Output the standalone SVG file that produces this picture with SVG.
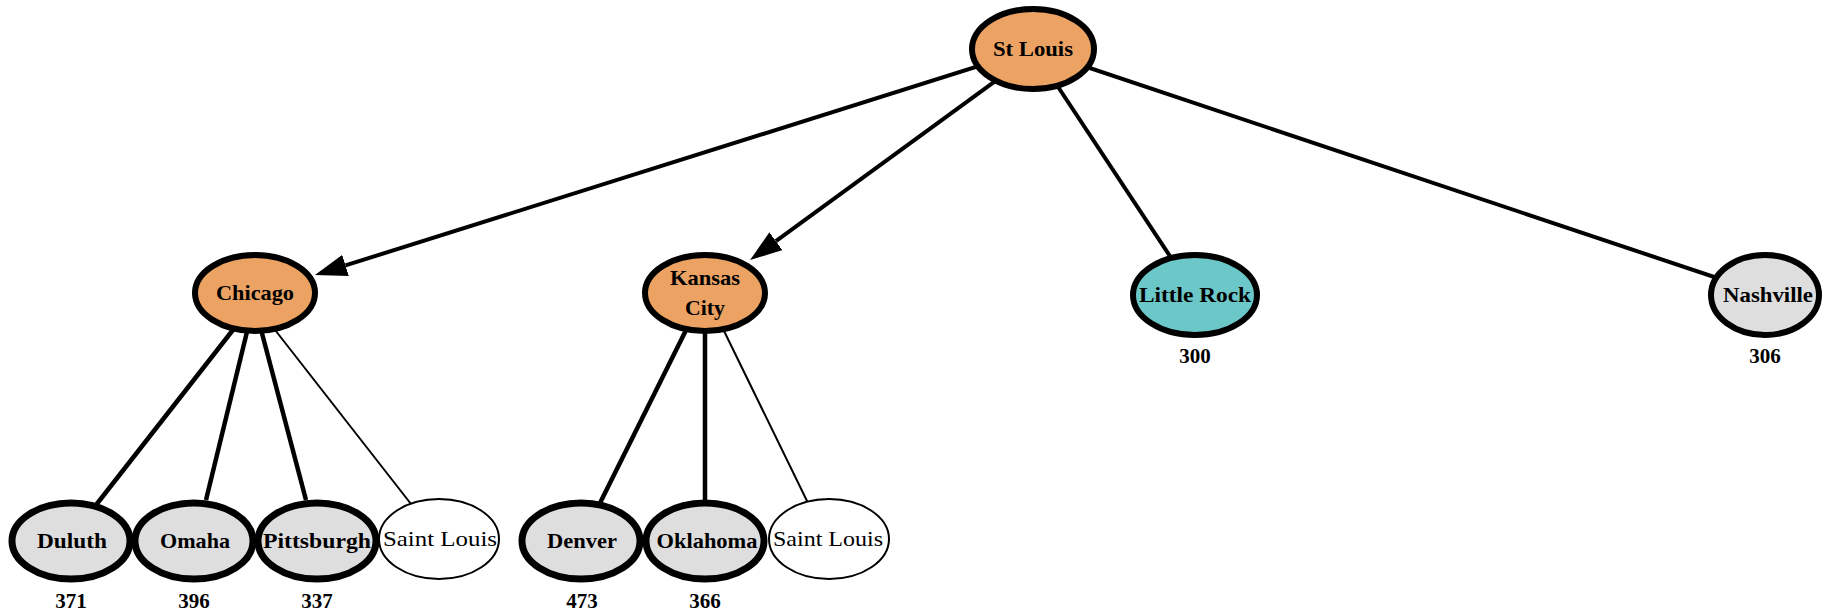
<svg xmlns="http://www.w3.org/2000/svg" width="1830" height="614" viewBox="0 0 1830 614">
  <style>
    .node { stroke: #000; stroke-width: 6; }
    .row .node { stroke-width: 7; }
    .leaf { stroke: #000; stroke-width: 2; fill: #fff; }
    .open { fill: #eba262; }
    .goal { fill: #6cc7c8; }
    .seen { fill: #dedede; }
    .lbl { font-family: "Liberation Serif", "Times New Roman", serif; font-size: 21px; font-weight: bold; fill: #000; text-anchor: middle; }
    .plain { font-family: "Liberation Serif", "Times New Roman", serif; font-size: 21px; fill: #000; text-anchor: middle; }
    .cost { font-family: "Liberation Serif", "Times New Roman", serif; font-size: 21px; font-weight: bold; fill: #000; text-anchor: middle; }
    .edge { stroke: #000; stroke-width: 4; fill: none; }
    .edge-thick { stroke: #000; stroke-width: 4.5; fill: none; }
    .edge-thin { stroke: #000; stroke-width: 2; fill: none; }
  </style>
  <defs>
    <marker id="arrow" viewBox="0 0 32 22" refX="0" refY="11" markerWidth="32" markerHeight="22" markerUnits="userSpaceOnUse" orient="auto">
      <path d="M0,0 L32,11 L0,22 Z" fill="#000"/>
    </marker>
  </defs>
  <rect width="1830" height="614" fill="#fff"/>

  <g id="connectors">
    <!-- St Louis expansions -->
    <line class="edge" x1="1033" y1="49" x2="345.5" y2="265.4" marker-end="url(#arrow)"/>
    <line class="edge" x1="1020" y1="63" x2="775.9" y2="241.2" marker-end="url(#arrow)"/>
    <line class="edge" x1="1033" y1="49" x2="1195" y2="294"/>
    <line class="edge" x1="1033" y1="49" x2="1765" y2="294"/>
    <!-- Chicago children -->
    <line class="edge-thick" x1="254" y1="303" x2="96" y2="505"/>
    <line class="edge-thick" x1="254" y1="303" x2="206" y2="500"/>
    <line class="edge-thick" x1="254" y1="303" x2="306" y2="500"/>
    <line class="edge-thin" x1="254" y1="303" x2="411" y2="504"/>
    <!-- Kansas City children -->
    <line class="edge-thick" x1="705" y1="292" x2="599" y2="505"/>
    <line class="edge-thick" x1="705" y1="292" x2="705" y2="505"/>
    <line class="edge-thin" x1="705" y1="292" x2="808" y2="503"/>
  </g>

  <g id="n-stlouis">
    <ellipse class="node open" cx="1033" cy="49" rx="61" ry="40"/>
    <text class="lbl" x="1033" y="56" textLength="80" lengthAdjust="spacingAndGlyphs">St Louis</text>
  </g>
  <g id="n-chicago">
    <ellipse class="node open" cx="255" cy="293" rx="60" ry="38"/>
    <text class="lbl" x="255" y="300" textLength="78" lengthAdjust="spacingAndGlyphs">Chicago</text>
  </g>
  <g id="n-kansascity">
    <ellipse class="node open" cx="705" cy="293" rx="60" ry="38"/>
    <text class="lbl" x="705" y="285" textLength="70" lengthAdjust="spacingAndGlyphs">Kansas</text>
    <text class="lbl" x="705" y="315" textLength="40" lengthAdjust="spacingAndGlyphs">City</text>
  </g>
  <g id="n-littlerock">
    <ellipse class="node goal" cx="1195" cy="295" rx="62" ry="40"/>
    <text class="lbl" x="1195" y="302" textLength="112" lengthAdjust="spacingAndGlyphs">Little Rock</text>
    <text class="cost" x="1195" y="363">300</text>
  </g>
  <g id="n-nashville">
    <ellipse class="node seen" cx="1765" cy="295" rx="54" ry="40"/>
    <text class="lbl" x="1768" y="302" textLength="90" lengthAdjust="spacingAndGlyphs">Nashville</text>
    <text class="cost" x="1765" y="363">306</text>
  </g>

  <g class="row">
    <g id="n-duluth">
      <ellipse class="node seen" cx="71" cy="541" rx="59" ry="38"/>
      <text class="lbl" x="72" y="548" textLength="70" lengthAdjust="spacingAndGlyphs">Duluth</text>
      <text class="cost" x="71" y="608">371</text>
    </g>
    <g id="n-omaha">
      <ellipse class="node seen" cx="194" cy="541" rx="59" ry="38"/>
      <text class="lbl" x="195" y="548" textLength="70" lengthAdjust="spacingAndGlyphs">Omaha</text>
      <text class="cost" x="194" y="608">396</text>
    </g>
    <g id="n-pittsburgh">
      <ellipse class="node seen" cx="317" cy="541" rx="59" ry="38"/>
      <text class="lbl" x="317" y="548" textLength="108" lengthAdjust="spacingAndGlyphs">Pittsburgh</text>
      <text class="cost" x="317" y="608">337</text>
    </g>
    <g id="n-saintlouis-1">
      <ellipse class="leaf" cx="439" cy="539" rx="60" ry="40"/>
      <text class="plain" x="440" y="546" textLength="114" lengthAdjust="spacingAndGlyphs">Saint Louis</text>
    </g>

    <g id="n-denver">
      <ellipse class="node seen" cx="581" cy="541" rx="59" ry="38"/>
      <text class="lbl" x="582" y="548" textLength="70" lengthAdjust="spacingAndGlyphs">Denver</text>
      <text class="cost" x="582" y="608">473</text>
    </g>
    <g id="n-oklahoma">
      <ellipse class="node seen" cx="705" cy="541" rx="59" ry="38"/>
      <text class="lbl" x="707" y="548" textLength="101" lengthAdjust="spacingAndGlyphs">Oklahoma</text>
      <text class="cost" x="705" y="608">366</text>
    </g>
    <g id="n-saintlouis-2">
      <ellipse class="leaf" cx="829" cy="539" rx="60" ry="40"/>
      <text class="plain" x="828" y="546" textLength="110" lengthAdjust="spacingAndGlyphs">Saint Louis</text>
    </g>
  </g>
</svg>
